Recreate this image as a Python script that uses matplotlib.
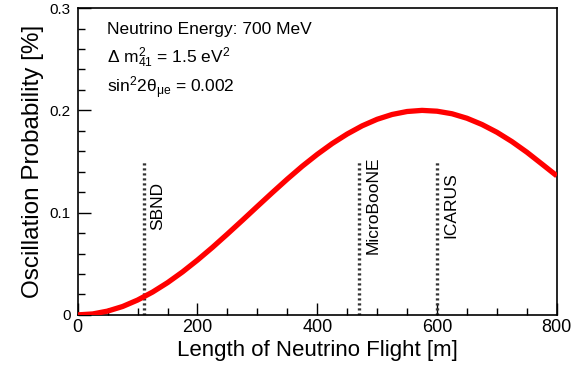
import matplotlib
matplotlib.use('Agg')
import matplotlib.pyplot as plt
from matplotlib.ticker import MultipleLocator

# oscillation probability, L in m, P in %
length = [0, 25, 50, 75, 100, 125, 150, 175, 200, 225, 250, 275, 300, 325, 350,
          375, 400, 425, 450, 475, 500, 525, 550, 575, 600, 625, 650, 675, 700,
          725, 750, 775, 800]
prob = [0.0, 0.0009, 0.0037, 0.0082, 0.0145, 0.0223, 0.0315, 0.0420, 0.0536,
        0.0660, 0.0791, 0.0925, 0.1061, 0.1196, 0.1328, 0.1454, 0.1570, 0.1676,
        0.1769, 0.1849, 0.1913, 0.1960, 0.1989, 0.2000, 0.1992, 0.1967, 0.1923,
        0.1862, 0.1786, 0.1695, 0.1591, 0.1476, 0.1360]

detectors = ['SBND', 'MicroBooNE', 'ICARUS']
det_pos = [110, 470, 600]
line_top = 0.15

plt.rcParams['font.family'] = ['Liberation Sans', 'DejaVu Sans']
plt.rcParams['mathtext.fontset'] = 'custom'
plt.rcParams['mathtext.rm'] = 'Liberation Sans'
plt.rcParams['mathtext.it'] = 'Liberation Sans:italic'

fig = plt.figure(figsize=(5.8, 3.7), dpi=100)
ax = fig.add_axes([0.134, 0.149, 0.826, 0.829])

ax.plot(length, prob, color='#ff0000', lw=3.8, solid_capstyle='butt', zorder=3)

for name, x in zip(detectors, det_pos):
    ax.plot([x, x], [0, line_top], color='#333333', lw=2.4, ls=(0, (0.65, 0.85)), zorder=2)
    ax.text(x + 23, 0.107, name, rotation=90, ha='center', va='center', fontsize=12.5)

ax.text(0.062, 0.93, 'Neutrino Energy: 700 MeV', transform=ax.transAxes, fontsize=12.5, va='center')
ax.text(0.062, 0.838, r'$\mathrm{\Delta\ m^2_{41}}$ = 1.5 eV$^2$', transform=ax.transAxes,
        fontsize=12.5, va='center')
ax.text(0.062, 0.74, r'sin$^2$2$\mathrm{\theta_{\mu e}}$ = 0.002', transform=ax.transAxes,
        fontsize=12.5, va='center')

ax.set_xlim(0, 800)
ax.set_ylim(0, 0.3)
ax.xaxis.set_major_locator(MultipleLocator(200))
ax.xaxis.set_minor_locator(MultipleLocator(50))
ax.yaxis.set_major_locator(MultipleLocator(0.1))
ax.yaxis.set_minor_locator(MultipleLocator(0.02))
ax.set_yticks([0, 0.1, 0.2, 0.3])
ax.set_yticklabels(['0', '0.1', '0.2', '0.3'])
ax.tick_params(which='both', direction='in', top=False, right=False)
ax.tick_params(axis='x', labelsize=13, pad=3)
ax.tick_params(axis='y', labelsize=11, pad=5)
ax.tick_params(which='major', length=9, width=1)
ax.tick_params(which='minor', length=5, width=1)
for s in ax.spines.values():
    s.set_linewidth(1.2)

ax.set_xlabel('Length of Neutrino Flight [m]', fontsize=16, labelpad=3)
ax.set_ylabel('Oscillation Probability [%]', fontsize=17.5, labelpad=4)

fig.savefig('out.png', dpi=100)
